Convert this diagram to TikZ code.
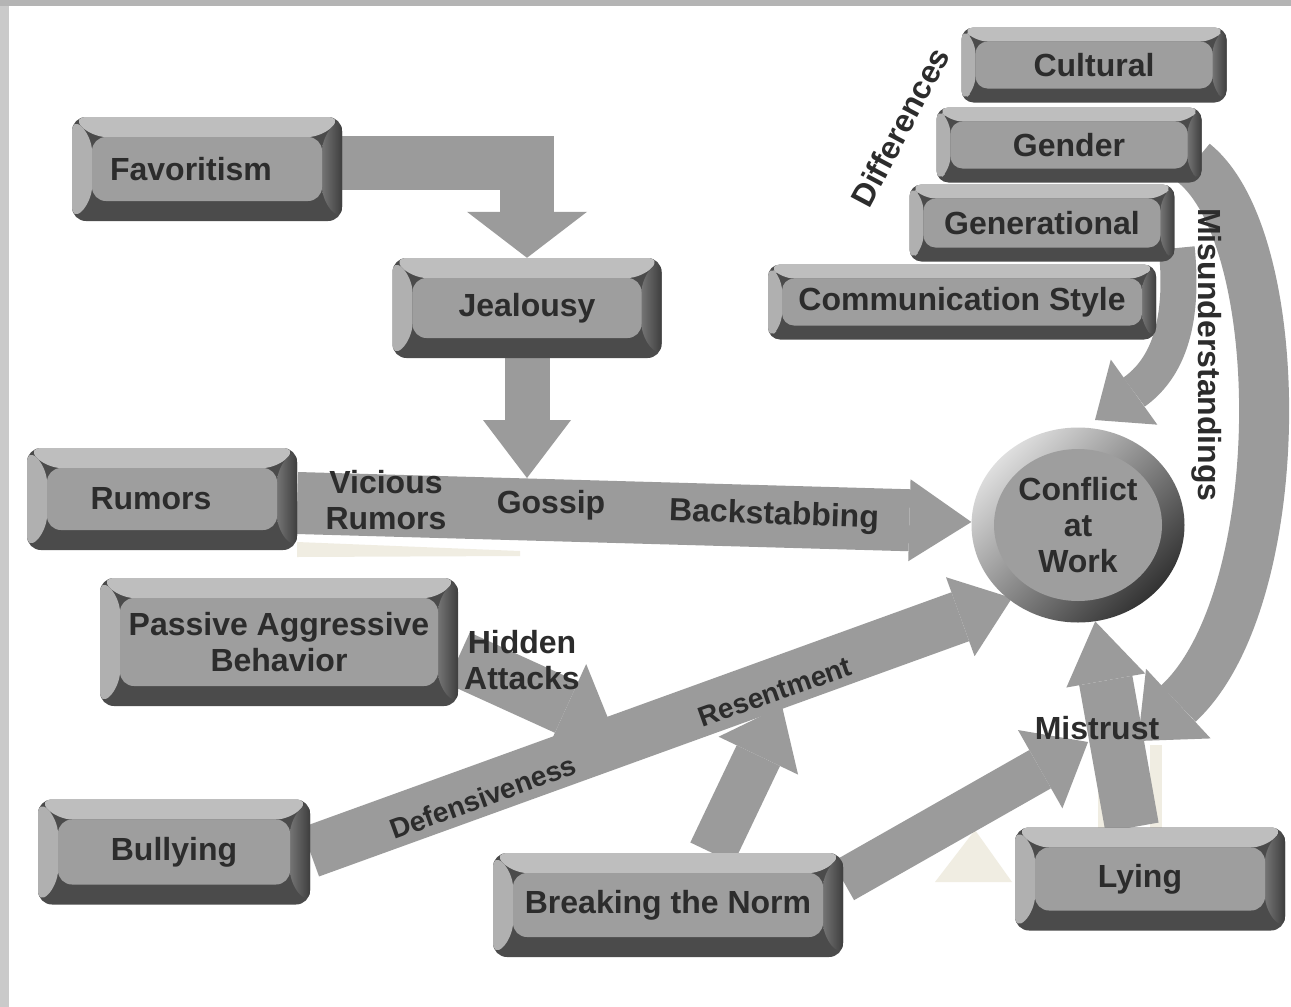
\documentclass[tikz,border=0pt]{standalone}
\usepackage{fontspec}
\setmainfont{Liberation Sans}
\usetikzlibrary{arrows.meta,calc,shapes.geometric}
\definecolor{arrowgray}{HTML}{9B9B9B}
\definecolor{facegray}{HTML}{9E9E9E}
\definecolor{topgray}{HTML}{BEBEBE}
\definecolor{leftgray}{HTML}{B0B0B0}
\definecolor{botgray}{HTML}{4B4B4B}
\definecolor{rightA}{HTML}{747474}
\definecolor{rightB}{HTML}{3E3E3E}
\definecolor{txtgray}{HTML}{2C2C2C}
\definecolor{frameA}{HTML}{B4B4B4}
\definecolor{frameB}{HTML}{CACACA}
\definecolor{cream}{HTML}{F0EDE2}
\definecolor{ringlight}{HTML}{DEDEDE}
\definecolor{ringdark}{HTML}{333333}
\newcommand\lblfont{\bfseries\fontsize{32}{36}\selectfont}
\newcommand\smlfont{\bfseries\fontsize{28}{32}\selectfont}
\pgfdeclarelayer{background}
\pgfsetlayers{background,main}
\tikzset{
  bevel/.store in=\bvl, bevel=20pt,
  keybox/.style={rectangle, rounded corners=14pt, fill=botgray, inner sep=0pt,
    text=txtgray, font=\lblfont, align=center,
    path picture={
      \fill[topgray] (path picture bounding box.north west) -- (path picture bounding box.north east)
        -- ([xshift=-\bvl,yshift=-\bvl]path picture bounding box.north east)
        -- ([xshift=\bvl,yshift=-\bvl]path picture bounding box.north west) -- cycle;
      \fill[leftgray] (path picture bounding box.north west) -- ([xshift=\bvl,yshift=-\bvl]path picture bounding box.north west)
        -- ([xshift=\bvl,yshift=\bvl]path picture bounding box.south west) -- (path picture bounding box.south west) -- cycle;
      \shade[left color=rightA, right color=rightB] (path picture bounding box.north east) -- ([xshift=-\bvl,yshift=-\bvl]path picture bounding box.north east)
        -- ([xshift=-\bvl,yshift=\bvl]path picture bounding box.south east) -- (path picture bounding box.south east) -- cycle;
      \fill[facegray] ([xshift=\bvl,yshift=-\bvl]path picture bounding box.north west) rectangle ([xshift=-\bvl,yshift=\bvl]path picture bounding box.south east);
    }},
  lbl/.style={text=txtgray, font=\lblfont, align=center, inner sep=0pt},
  fat/.style n args={3}{draw=arrowgray, line width=#1, -{Triangle[width=#2,length=#3,line width=0pt]}}
}
\begin{document}
\begin{tikzpicture}[x=1pt,y=-1pt]
\useasboundingbox (0,0) rectangle (1291,1007);

% boxes
\node[keybox, minimum width=270pt, minimum height=104pt] (fav) at (207,169) {\hspace*{-32pt}Favoritism};
\node[keybox, minimum width=269pt, minimum height=100pt] (jeal) at (527,308) {Jealousy};
\node[keybox, minimum width=270pt, minimum height=102pt] (rum) at (162,499) {\hspace*{-22pt}Rumors};
\node[keybox, minimum width=358pt, minimum height=128pt] (pab) at (279,642) {Passive Aggressive\\Behavior};
\node[keybox, minimum width=272pt, minimum height=105pt] (bul) at (174,852) {Bullying};
\node[keybox, minimum width=350pt, minimum height=104pt] (btn) at (668,905) {Breaking the Norm};
\node[keybox, minimum width=270pt, minimum height=103pt] (lying) at (1150,879) {\hspace*{-20pt}Lying};
\node[keybox, bevel=14pt, rounded corners=12pt, minimum width=265pt, minimum height=75pt] (cult) at (1094,65) {Cultural};
\node[keybox, bevel=14pt, rounded corners=12pt, minimum width=265pt, minimum height=75pt] (gend) at (1069,145) {Gender};
\node[keybox, bevel=14pt, rounded corners=12pt, minimum width=265pt, minimum height=77pt] (gener) at (1042,223) {Generational};
\node[keybox, bevel=14pt, rounded corners=12pt, minimum width=388pt, minimum height=75pt] (comm) at (962,302) {Communication Style};

\node[ellipse, minimum width=213pt, minimum height=195pt, inner sep=0pt,
  top color=ringlight, bottom color=ringdark, shading angle=45,
  path picture={\fill[facegray] (path picture bounding box.center) ellipse [x radius=84pt, y radius=76pt];},
  text=txtgray, font=\lblfont, align=center] (conf) at (1078,525) {Conflict\\at\\Work};

% free ends of connectors
\coordinate (gosspt) at (527,478);
\coordinate (hidTip) at (612,728);
\coordinate (bulTip) at (1012,598);
\coordinate (resTip) at (782,706);
\coordinate (mstTip) at (1088,742);
\coordinate (genTip) at (1095,420);
\coordinate (musTip) at (1138,741);

\begin{pgfonlayer}{background}
  \fill[white] (0,0) rectangle (1291,1007);
  \fill[frameA] (0,0) rectangle (1291,6);
  \fill[frameB] (0,6) rectangle (9,1007);
  % faint shadows
  \fill[cream] (935,882) -- (975,830) -- (1012,882) -- cycle;
  \fill[cream] (1098,745) rectangle (1118,828);
  \fill[cream] (1150,745) rectangle (1162,828);
  \fill[cream] (297,542) -- (520,551) -- (520,556) -- (297,557) -- cycle;
  % connectors
  \draw[fat={54pt}{120pt}{46pt}] ($(fav.east)+(0,-6)$) -| (jeal.north);
  \draw[fat={45pt}{88pt}{58pt}] (jeal.south) -- (gosspt);
  \draw[fat={62pt}{82pt}{62pt}] ($(rum.east)+(0,4)$) -- (conf);
  \draw[fat={56pt}{95pt}{50pt}] ($(pab.east)+(0,16)$) -- (hidTip);
  \draw[fat={52pt}{84pt}{55pt}] (bul.east) -- (bulTip);
  \draw[fat={48pt}{88pt}{55pt}] ($(btn.north)+(44,0)$) -- (resTip);
  \draw[fat={44pt}{90pt}{55pt}] ($(btn.east)+(0,-24)$) -- (mstTip);
  \draw[fat={54pt}{80pt}{60pt}] ($(lying.north)+(-18,0)$) -- (conf);
  \draw[fat={36pt}{80pt}{48pt}] ($(gener.east)+(2,25)$) .. controls +(8,80) and +(70,-50) .. (genTip);
  \draw[fat={50pt}{95pt}{55pt}] ($(gend.east)+(-8,18)$) .. controls (1290,240) and (1290,600) .. (musTip);
\end{pgfonlayer}

% connector labels
\node[lbl] (lvr) at (386,500) {Vicious\\Rumors};
\node[lbl] (lgos) at (551,505) {Gossip};
\node[lbl, rotate=-2] (lback) at (774,516) {Backstabbing};
\node[lbl] (lhid) at (522,660) {Hidden\\Attacks};
\node[lbl, font=\smlfont, rotate=20] (ldef) at (483,797) {Defensiveness};
\node[lbl, font=\smlfont, rotate=19.5] (lres) at (775,692) {Resentment};
\node[lbl] (lmis) at (1097,728) {Mistrust};
\node[lbl, rotate=62] (ldif) at (900,127) {Differences};
\node[lbl, rotate=-90] (lmun) at (1207,355) {Misunderstandings};
\end{tikzpicture}
\end{document}
